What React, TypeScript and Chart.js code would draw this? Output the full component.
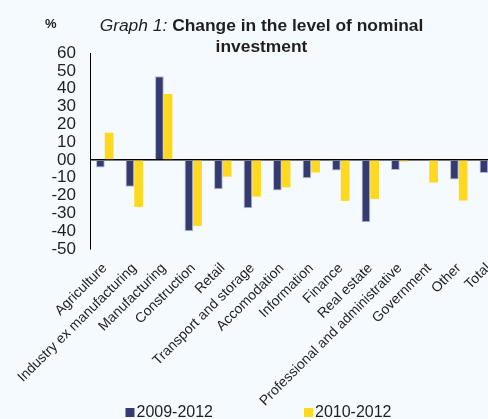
import React, { useEffect, useRef } from 'react';
import { Chart, registerables } from 'chart.js';

Chart.register(...registerables);

const FONT = '"Liberation Sans", Arial, sans-serif';

const categories = [
  'Agriculture',
  'Industry ex manufacturing',
  'Manufacturing',
  'Construction',
  'Retail',
  'Transport and storage',
  'Accomodation',
  'Information',
  'Finance',
  'Real estate',
  'Professional and administrative',
  'Government',
  'Other',
  'Total',
];
const series2009to2012 = [-4.3, -15, 47, -40, -16.5, -27.2, -17.2, -10.3, -6, -35, -5.6, 0.3, -11, -7.3];
const series2010to2012 = [15.3, -26.4, 37, -37, -9.4, -20.6, -15.4, -7.1, -23, -21.9, -0.9, -12.7, -22.8, -7];
const seriesNames = ['2009-2012', '2010-2012'];
const yTickValues = [-50, -40, -30, -20, -10, 0, 10, 20, 30, 40, 50, 60];
const yTickLabels = ['-50', '-40', '-30', '-20', '-10', '00', '10', '20', '30', '40', '50', '60'];
const titleItalic = 'Graph 1: ';
const titleBold = 'Change in the level of nominal';
const titleLine2 = 'investment';
const unitLabel = '%';

const BLUE = '#353A70';
const YELLOW = '#FFD920';
const TEXT = '#1f1f1f';

const textPlugin = {
  id: 'customTexts',
  afterDraw(chart: any) {
    const ctx = chart.ctx as CanvasRenderingContext2D;
    const area = chart.chartArea;
    ctx.save();
    ctx.fillStyle = TEXT;
    ctx.textBaseline = 'alphabetic';
    // title
    const cx = chart.width / 2 + 3;
    const italicFont = `italic 17.4px ${FONT}`;
    const boldFont = `bold 17.4px ${FONT}`;
    ctx.font = italicFont;
    const w1 = ctx.measureText(titleItalic).width;
    ctx.font = boldFont;
    const w2 = ctx.measureText(titleBold).width;
    const x0 = cx - (w1 + w2) / 2;
    ctx.textAlign = 'left';
    ctx.font = italicFont;
    ctx.fillText(titleItalic, x0, area.top - 22);
    ctx.font = boldFont;
    ctx.fillText(titleBold, x0 + w1, area.top - 22);
    ctx.textAlign = 'center';
    ctx.fillText(titleLine2, cx, area.top - 1);
    // unit label
    ctx.textAlign = 'left';
    ctx.font = `bold 13px ${FONT}`;
    ctx.fillText(unitLabel, area.left - 45, area.top - 25.5);
    // legend
    ctx.font = `16px ${FONT}`;
    ctx.textBaseline = 'middle';
    const ds = chart.data.datasets;
    const box = 9;
    const gapBoxText = 2;
    const gapItems = 91;
    const widths = ds.map((d: any) => box + gapBoxText + ctx.measureText(d.label).width);
    const total = widths.reduce((a: number, b: number) => a + b, 0) + gapItems * (ds.length - 1);
    let x = chart.width / 2 - total / 2;
    const yc = chart.height - 6.5;
    ds.forEach((d: any, i: number) => {
      ctx.fillStyle = d.backgroundColor;
      ctx.fillRect(x, yc - box / 2, box, box);
      ctx.fillStyle = TEXT;
      ctx.fillText(d.label, x + box + gapBoxText, yc);
      x += widths[i] + gapItems;
    });
    ctx.restore();
  },
};

export default function App() {
  const canvasRef = useRef<HTMLCanvasElement | null>(null);

  useEffect(() => {
    const canvas = canvasRef.current;
    if (!canvas) return;
    const chart = new Chart(canvas, {
      type: 'bar',
      data: {
        labels: categories,
        datasets: [
          {
            label: seriesNames[0],
            data: series2009to2012,
            backgroundColor: BLUE,
            borderColor: '#B4B8CC',
            borderWidth: 1,
          },
          {
            label: seriesNames[1],
            data: series2010to2012,
            backgroundColor: YELLOW,
            borderWidth: 0,
          },
        ],
      },
      options: {
        responsive: false,
        animation: false,
        layout: { padding: { top: 53, left: 0, right: 14, bottom: 4 } },
        datasets: { bar: { categoryPercentage: 0.59, barPercentage: 1.0 } },
        plugins: {
          legend: { display: false },
          title: { display: false },
          tooltip: { enabled: false },
        },
        scales: {
          x: {
            grid: { display: false, drawTicks: false },
            border: { display: false },
            ticks: {
              autoSkip: false,
              maxRotation: 45,
              minRotation: 45,
              padding: 11,
              color: TEXT,
              font: { family: FONT, size: 14 },
            },
            afterFit: (s: any) => {
              s.height = 166;
            },
          },
          y: {
            min: yTickValues[0],
            max: yTickValues[yTickValues.length - 1],
            grid: {
              drawTicks: false,
              color: (c: any) => (c.tick && c.tick.value === 0 ? '#000000' : 'rgba(0,0,0,0)'),
              lineWidth: 1.5,
            },
            border: { display: true, color: '#000000', width: 1 },
            ticks: {
              autoSkip: false,
              stepSize: 10,
              padding: 14,
              color: TEXT,
              font: { family: FONT, size: 17 },
              callback: (v: any) => {
                const idx = yTickValues.indexOf(Math.round(Number(v)));
                return idx >= 0 ? yTickLabels[idx] : '';
              },
            },
            afterFit: (s: any) => {
              s.width = 90;
            },
          },
        },
      },
      plugins: [textPlugin],
    });
    return () => chart.destroy();
  }, []);

  return (
    <div
      style={{
        position: 'fixed',
        left: 0,
        top: 0,
        width: 488,
        height: 419,
        overflow: 'hidden',
        background: '#F5FAFE',
      }}
    >
      <canvas ref={canvasRef} width={517} height={419} style={{ display: 'block' }} />
    </div>
  );
}
